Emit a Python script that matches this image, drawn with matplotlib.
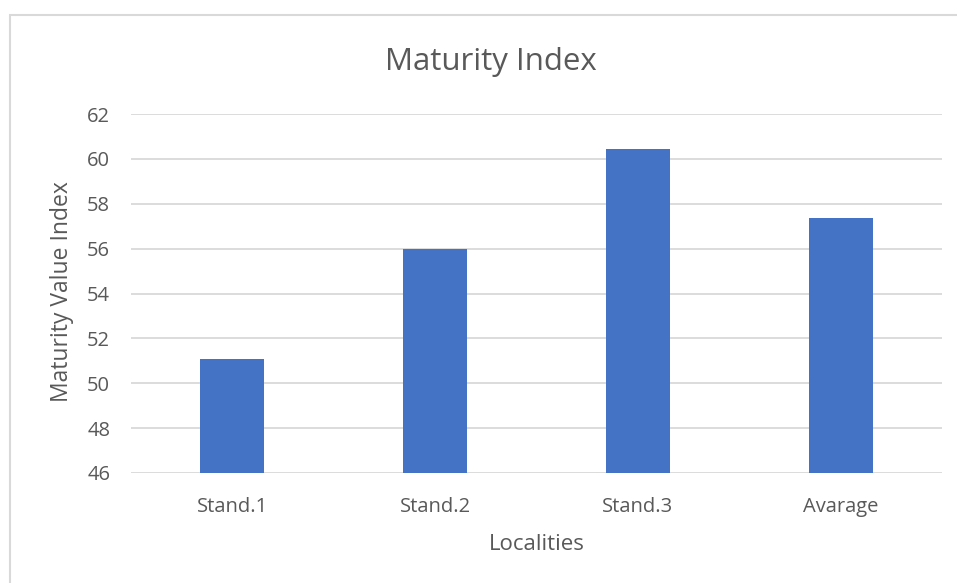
import matplotlib
matplotlib.use("Agg")
import matplotlib.pyplot as plt
from matplotlib.patches import Rectangle

categories = ["Stand.1", "Stand.2", "Stand.3", "Avarage"]
values = [51.08, 55.98, 60.45, 57.37]
yticks = [46, 48, 50, 52, 54, 56, 58, 60, 62]

plt.rcParams['font.family'] = ['Open Sans', 'DejaVu Sans']
txt = '#595959'
W, H = 957, 583
fig = plt.figure(figsize=(W/100, H/100), dpi=100)
fig.patch.set_facecolor('white')

# chart border
fig.add_artist(Rectangle((10/W, -0.1), 1.2, 1.1 - 15/H, transform=fig.transFigure,
                         fill=False, edgecolor='#d9d9d9', linewidth=1.5))

ax = fig.add_axes([131/W, 1 - 473/H, (942-131)/W, (473-114)/H])
x = range(len(categories))
ax.bar(x, values, width=0.316, color='#4472C4', zorder=3)
ax.set_xlim(-0.5, len(categories) - 0.5)
ax.set_ylim(46, 62)
ax.set_yticks(yticks)
ax.set_xticks(list(x))
ax.set_xticklabels(categories)
ax.grid(axis='y', color='#d9d9d9', linewidth=1.3, zorder=0)
for s in ax.spines.values():
    s.set_visible(False)
ax.tick_params(axis='both', length=0, colors=txt, labelsize=14.5)
ax.tick_params(axis='y', pad=15)
ax.tick_params(axis='x', pad=17)

fig.text(491/W, 1 - 62/H, "Maturity Index", fontsize=22.5, color=txt, ha='center', va='center')
fig.text(62/W, 1 - 292/H, "Maturity Value Index", fontsize=16.5, color=txt, ha='center', va='center', rotation=90)
fig.text(536.5/W, 1 - 545/H, "Localities", fontsize=16, color=txt, ha='center', va='center')

fig.savefig("out.png", dpi=100, facecolor='white')
